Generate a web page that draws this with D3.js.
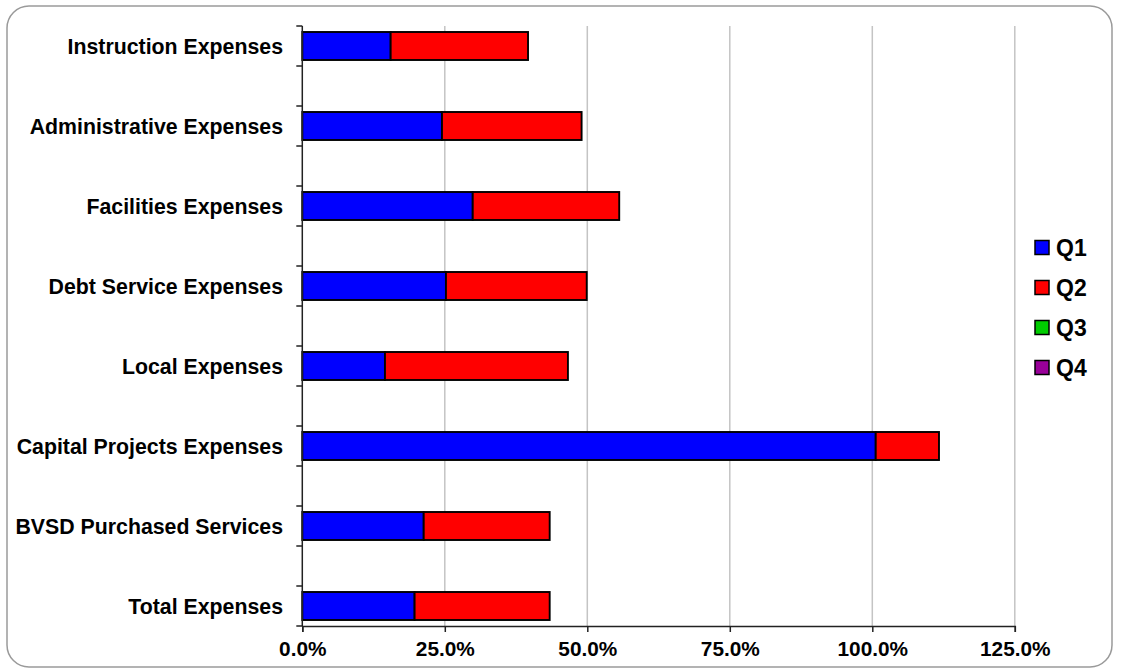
<!DOCTYPE html>
<html>
<head>
<meta charset="utf-8">
<script src="https://cdn.jsdelivr.net/npm/d3@7"></script>
<style>
  html, body { margin: 0; padding: 0; background: #fff; }
  svg { display: block; }
  text { font-family: "Liberation Sans", Arial, sans-serif; font-weight: bold; fill: #000; }
</style>
</head>
<body>
<svg id="chart" width="1124" height="670"></svg>
<script>
const categories = [
  "Instruction Expenses",
  "Administrative Expenses",
  "Facilities Expenses",
  "Debt Service Expenses",
  "Local Expenses",
  "Capital Projects Expenses",
  "BVSD Purchased Services",
  "Total Expenses"
];
const seriesNames = ["Q1", "Q2", "Q3", "Q4"];
const q1 = [15.5, 24.5, 29.9, 25.2, 14.5, 100.6, 21.3, 19.7];
const q2 = [24.1, 24.5, 25.7, 24.7, 32.1, 11.1, 22.1, 23.7];
const q3 = [0, 0, 0, 0, 0, 0, 0, 0];
const q4 = [0, 0, 0, 0, 0, 0, 0, 0];
const seriesColors = ["#0000FF", "#FF0000", "#00CC00", "#990099"];
const xTicks = [0, 25, 50, 75, 100, 125];

const rows = categories.map((c, i) => ({ cat: c, Q1: q1[i], Q2: q2[i], Q3: q3[i], Q4: q4[i] }));

const svg = d3.select("#chart");
const plot = { left: 302.3, right: 1014.8, top: 26, bottom: 626 };

// outer rounded frame
svg.append("rect")
  .attr("x", 7).attr("y", 6).attr("width", 1105).attr("height", 661)
  .attr("rx", 22).attr("ry", 22)
  .attr("fill", "#fff").attr("stroke", "#9a9a9a").attr("stroke-width", 1.5);

// slots: categories separated by empty gap slots
const slots = [];
categories.forEach((c, i) => { slots.push(c); if (i < categories.length - 1) slots.push("__gap" + i); });

const x = d3.scaleLinear().domain([0, 125]).range([plot.left, plot.right]);
const y = d3.scaleBand().domain(slots).range([plot.top, plot.bottom]).paddingInner(0.3).paddingOuter(0.15);

// gridlines
svg.append("g").selectAll("line")
  .data(xTicks.filter(t => t > 0))
  .join("line")
  .attr("x1", d => x(d)).attr("x2", d => x(d))
  .attr("y1", plot.top).attr("y2", plot.bottom)
  .attr("stroke", "#c4c4c4").attr("stroke-width", 1.5);

// stacked bars
const stack = d3.stack().keys(seriesNames);
const layers = stack(rows);
const color = d3.scaleOrdinal().domain(seriesNames).range(seriesColors);

svg.append("g").selectAll("g")
  .data(layers)
  .join("g")
  .attr("fill", d => color(d.key))
  .selectAll("rect")
  .data(d => d.filter(p => p[1] - p[0] > 0))
  .join("rect")
  .attr("x", d => x(d[0]))
  .attr("width", d => x(d[1]) - x(d[0]))
  .attr("y", d => y(d.data.cat))
  .attr("height", y.bandwidth())
  .attr("stroke", "#000").attr("stroke-width", 1.9);

// y axis line + ticks at slot boundaries
const axisColor = "#222";
svg.append("line")
  .attr("x1", plot.left).attr("x2", plot.left)
  .attr("y1", plot.top).attr("y2", plot.bottom)
  .attr("stroke", axisColor).attr("stroke-width", 1.5);
const boundaries = d3.range(slots.length + 1).map(i => plot.top + i * y.step());
svg.append("g").selectAll("line")
  .data(boundaries)
  .join("line")
  .attr("x1", plot.left - 6).attr("x2", plot.left)
  .attr("y1", d => d).attr("y2", d => d)
  .attr("stroke", axisColor).attr("stroke-width", 1.5);

// category labels
svg.append("g").selectAll("text")
  .data(categories)
  .join("text")
  .attr("x", 283)
  .attr("y", d => y(d) + y.bandwidth() / 2)
  .attr("dy", "0.36em")
  .attr("text-anchor", "end")
  .attr("font-size", 21.3)
  .text(d => d);

// x axis
const xAxis = d3.axisBottom(x).tickValues(xTicks).tickSize(6).tickPadding(9)
  .tickFormat(d => d3.format(".1f")(d) + "%");
const gx = svg.append("g").attr("transform", `translate(0,${plot.bottom})`).call(xAxis);
gx.select(".domain").attr("stroke", axisColor).attr("stroke-width", 1.5);
gx.selectAll(".tick line").attr("stroke", axisColor).attr("stroke-width", 1.5);
gx.selectAll(".tick text")
  .attr("font-size", 20.8)
  .attr("font-family", "'Liberation Sans', Arial, sans-serif")
  .attr("font-weight", "bold")
  .attr("fill", "#000");

// legend
const legend = svg.append("g").attr("transform", "translate(1035,240.5)");
const li = legend.selectAll("g")
  .data(seriesNames)
  .join("g")
  .attr("transform", (d, i) => `translate(0,${i * 40})`);
li.append("rect")
  .attr("width", 14).attr("height", 14)
  .attr("fill", d => color(d))
  .attr("stroke", "#000").attr("stroke-width", 1.5);
li.append("text")
  .attr("x", 21).attr("y", 7).attr("dy", "0.36em")
  .attr("font-size", 23)
  .attr("fill", "#1a1a1a")
  .text(d => d);
</script>
</body>
</html>
